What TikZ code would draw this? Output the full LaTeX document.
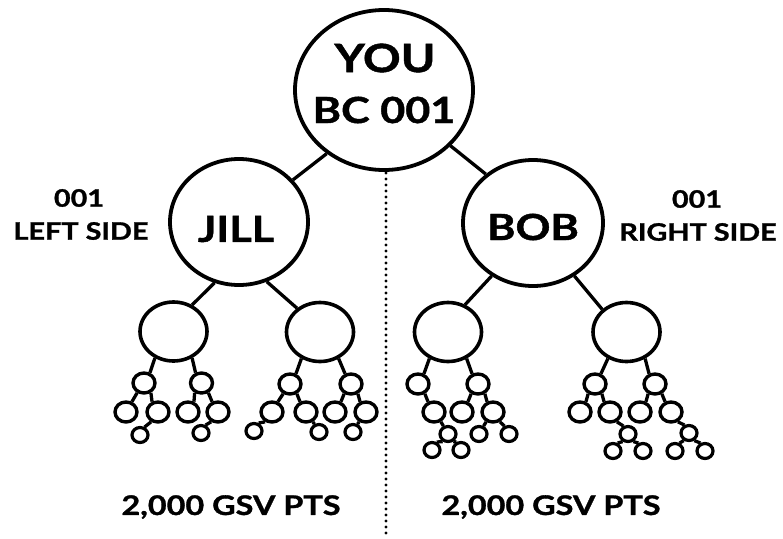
\documentclass[tikz,border=0pt]{standalone}
\usepackage{fontspec}
\setmainfont{Lato}[BoldFeatures={FakeStretch=1.2,FakeBold=1.2}]
\usetikzlibrary{shapes.geometric}
\tikzset{
  x=1pt,y=1pt,
  big/.style={draw,ellipse,line width=3.8pt,inner sep=0pt},
  mid/.style={draw,ellipse,line width=3.6pt,inner sep=0pt,minimum width=67pt,minimum height=59pt},
  sm/.style={draw,ellipse,line width=3.4pt,inner sep=0pt,minimum width=22pt,minimum height=20pt},
  xs/.style={draw,ellipse,line width=3.2pt,inner sep=0pt,minimum width=16pt,minimum height=15pt},
  edge/.style={line width=3.3pt},
  lbl/.style={font=\bfseries,inner sep=0pt,align=center},
}
\newcommand\edgeL[2]{\draw[edge] (#1.235) -- (#2.60);}
\newcommand\edgeR[2]{\draw[edge] (#1.305) -- (#2.120);}
\begin{document}
\begin{tikzpicture}
\useasboundingbox (0,0) rectangle (783,-538);
% dotted divider
\coordinate (dtop) at (386,-173);
\coordinate (dbot) at (386,-538);
\draw[line width=3.2pt,line cap=round,dash pattern=on 0pt off 6pt] (dtop) -- (dbot);
% big circles
\node[big,minimum width=178pt,minimum height=160pt] (root) at (384,-90) {};
\node[big,minimum width=138pt,minimum height=126pt] (jill) at (239,-222) {};
\node[big,minimum width=140pt,minimum height=126pt] (bob) at (533,-223) {};
% texts
\node[lbl,font=\bfseries\fontsize{39}{39}\selectfont] (t1) at (385,-58) {YOU};
\node[lbl,font=\bfseries\fontsize{36}{36}\selectfont] (t2) at (384,-110) {BC 001};
\node[lbl,font=\bfseries\fontsize{36}{36}\selectfont] (t3) at (236,-229) {JILL};
\node[lbl,font=\bfseries\fontsize{36}{36}\selectfont] (t4) at (533,-227) {BOB};
\node[lbl,font=\bfseries\fontsize{24}{24}\selectfont] (t5) at (79,-198) {001};
\node[lbl,font=\bfseries\fontsize{24}{24}\selectfont] (t6) at (81,-231) {LEFT SIDE};
\node[lbl,font=\bfseries\fontsize{24}{24}\selectfont] (t7) at (697,-199) {001};
\node[lbl,font=\bfseries\fontsize{24}{24}\selectfont] (t8) at (698,-232) {RIGHT SIDE};
\node[lbl,font=\bfseries\fontsize{27}{27}\selectfont] (t9) at (231,-507) {2,000 GSV PTS};
\node[lbl,font=\bfseries\fontsize{27}{27}\selectfont] (t10) at (551,-507) {2,000 GSV PTS};
% mid circles
\node[mid] (mA) at (173.5,-331.5) {};
\node[mid] (mB) at (320,-332) {};
\node[mid] (mC) at (448,-332) {};
\node[mid] (mD) at (626.5,-332) {};
% subtree A
\node[sm] (a1) at (144,-383) {};
\node[sm] (a2) at (201.5,-383) {};
\node[sm] (a11) at (126,-412) {};
\node[sm] (a12) at (158,-412) {};
\node[xs] (a121) at (140,-435) {};
\node[sm] (a21) at (188,-412) {};
\node[sm] (a22) at (218,-412) {};
\node[xs] (a221) at (201,-433) {};
% subtree B
\node[sm] (b1) at (290,-384) {};
\node[sm] (b2) at (351,-384) {};
\node[sm] (b11) at (272,-412) {};
\node[sm] (b12) at (306,-412) {};
\node[xs] (b111) at (254,-431) {};
\node[xs] (b121) at (319,-432) {};
\node[sm] (b21) at (335,-412) {};
\node[sm] (b22) at (366,-412) {};
\node[xs] (b221) at (353,-432) {};
% subtree C
\node[sm] (c1) at (418,-384) {};
\node[sm] (c2) at (478,-384) {};
\node[sm] (c11) at (434,-412) {};
\node[xs] (c111) at (448,-434) {};
\node[xs] (c1111) at (432,-450) {};
\node[xs] (c1112) at (461,-450) {};
\node[sm] (c21) at (462,-412) {};
\node[sm] (c22) at (493,-412) {};
\node[xs] (c221) at (479,-434) {};
\node[xs] (c222) at (509,-434) {};
% subtree D
\node[sm] (d1) at (595,-384) {};
\node[sm] (d2) at (655,-384) {};
\node[sm] (d11) at (580,-412) {};
\node[sm] (d12) at (610,-412) {};
\node[xs] (d121) at (628,-434) {};
\node[xs] (d1211) at (613,-451) {};
\node[xs] (d1212) at (643,-451) {};
\node[sm] (d21) at (640,-412) {};
\node[sm] (d22) at (671,-412) {};
\node[xs] (d221) at (689,-433) {};
\node[xs] (d2211) at (675,-451) {};
\node[xs] (d2212) at (705,-451) {};
% big edges
\draw[edge] (root.228) -- (jill.38);
\draw[edge] (root.320) -- (bob.134);
\draw[edge] (jill.248) -- (mA.55);
\draw[edge] (jill.295) -- (mB.134);
\draw[edge] (bob.232) -- (mC.58);
\draw[edge] (bob.308) -- (mD.137);
% mid edges
\edgeL{mA}{a1} \edgeR{mA}{a2}
\edgeL{mB}{b1} \edgeR{mB}{b2}
\edgeL{mC}{c1} \edgeR{mC}{c2}
\edgeL{mD}{d1} \edgeR{mD}{d2}
% small edges A
\edgeL{a1}{a11} \edgeR{a1}{a12} \edgeL{a12}{a121}
\edgeL{a2}{a21} \edgeR{a2}{a22} \edgeL{a22}{a221}
% B
\edgeL{b1}{b11} \edgeR{b1}{b12} \edgeL{b11}{b111} \edgeR{b12}{b121}
\edgeL{b2}{b21} \edgeR{b2}{b22} \edgeL{b22}{b221}
% C
\edgeR{c1}{c11} \edgeR{c11}{c111} \edgeL{c111}{c1111} \edgeR{c111}{c1112}
\edgeL{c2}{c21} \edgeR{c2}{c22} \edgeL{c22}{c221} \edgeR{c22}{c222}
% D
\edgeL{d1}{d11} \edgeR{d1}{d12} \edgeR{d12}{d121} \edgeL{d121}{d1211} \edgeR{d121}{d1212}
\edgeL{d2}{d21} \edgeR{d2}{d22} \edgeR{d22}{d221} \edgeL{d221}{d2211} \edgeR{d221}{d2212}
\end{tikzpicture}
\end{document}
